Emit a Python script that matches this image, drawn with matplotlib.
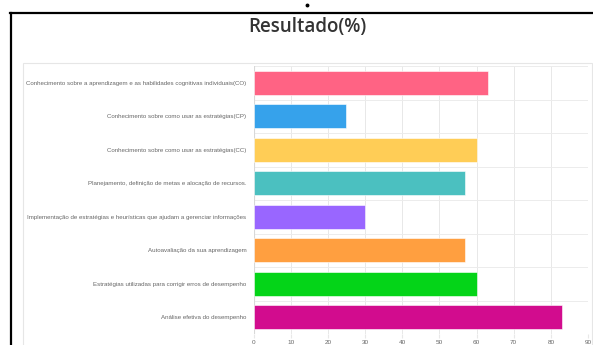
import matplotlib
matplotlib.use("Agg")
from matplotlib import pyplot as plt
from matplotlib.lines import Line2D
from matplotlib.patches import Rectangle

categories = [
    "Conhecimento sobre a aprendizagem e as habilidades cognitivas individuais(CO)",
    "Conhecimento sobre como usar as estratégias(CP)",
    "Conhecimento sobre como usar as estratégias(CC)",
    "Planejamento, definição de metas e alocação de recursos.",
    "Implementação de estratégias e heurísticas que ajudam a gerenciar informações",
    "Autoavaliação da sua aprendizagem",
    "Estratégias utilizadas para corrigir erros de desempenho",
    "Análise efetiva do desempenho",
]
values = [63, 25, 60, 57, 30, 57, 60, 83]
colors = ["#ff6384", "#36a2eb", "#ffcd56", "#4bc0c0",
          "#9966ff", "#ff9f40", "#04d418", "#d20c8e"]
x_ticks = [0, 10, 20, 30, 40, 50, 60, 70, 80, 90]

W, H = 593, 345
fig = plt.figure(figsize=(W / 100, H / 100), dpi=100)

# Outer black frame (top and left edges) and small dot
fig.add_artist(Line2D([10 / W, 1], [1 - 12.5 / H, 1 - 12.5 / H], color="black", lw=1.6))
fig.add_artist(Line2D([11 / W, 11 / W], [0, 1 - 12.5 / H], color="black", lw=1.6))
fig.add_artist(Line2D([307 / W], [1 - 5 / H], marker="o", markersize=1.8,
                      color="black", lw=0))

# Light card border
fig.add_artist(Rectangle((23 / W, -0.05), (592 - 23) / W, 0.05 + 1 - 63 / H,
                         transform=fig.transFigure, fill=False,
                         edgecolor="#e6e6e6", lw=0.8))

fig.text(307.5 / W, 1 - 27 / H, "Resultado(%)", ha="center", va="center",
         fontsize=13.5, fontfamily="Open Sans", fontweight="semibold", color="#333333")

left, right, top, bottom = 253.5, 588, 66, 334
ax = fig.add_axes([left / W, 1 - bottom / H, (right - left) / W, (bottom - top) / H])

pos = list(range(len(categories)))
ax.barh(pos, values, height=0.72, color=colors, edgecolor="white", linewidth=0.4, zorder=3)

ax.set_xlim(0, 90)
ax.set_ylim(len(categories) - 0.5, -0.5)
ax.set_xticks(x_ticks)
ax.set_xticklabels([str(t) for t in x_ticks], fontsize=4.6, color="#666666",
                   fontfamily="Liberation Sans")
ax.set_yticks(pos)
ax.set_yticklabels(categories, fontsize=4.45, color="#666666", fontfamily="Liberation Sans")

# Grid: verticals at ticks, horizontals between categories
for t in x_ticks:
    ax.axvline(t, color="#e8e8e8", lw=0.7, zorder=1)
for b in range(len(categories) + 1):
    ax.axhline(b - 0.5, color="#ececec", lw=0.7, zorder=1)

ax.tick_params(axis="x", length=3, color="#e8e8e8", pad=1.5)
ax.tick_params(axis="y", length=0, pad=5)
for s in ax.spines.values():
    s.set_visible(False)
ax.axvline(0, color="#d8d8d8", lw=0.8, zorder=2)

plt.savefig("out.png", dpi=100)
